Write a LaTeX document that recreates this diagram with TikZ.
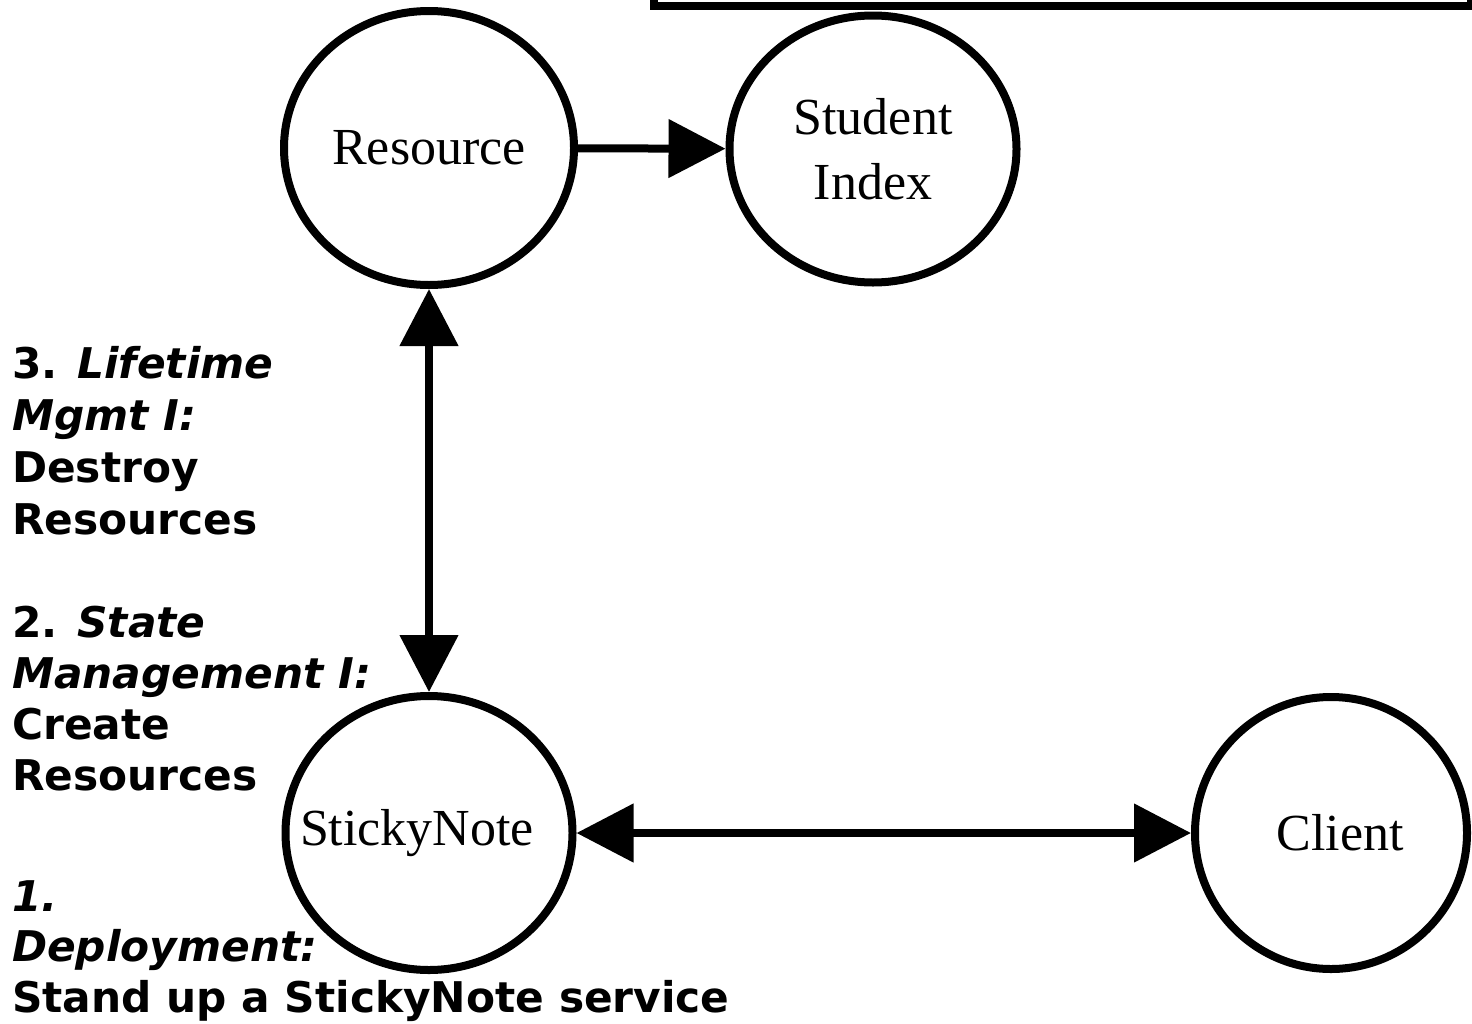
\documentclass[tikz,border=0pt]{standalone}
\usepackage{fontspec}
\setmainfont{Liberation Serif}
\newfontfamily\lblfont{DejaVu Sans}
\usetikzlibrary{shapes.geometric,arrows.meta}
\tikzset{
  state/.style={ellipse, draw, line width=8pt, inner sep=0pt, font=\fontsize{52}{65}\selectfont, align=center},
  conn/.style={line width=8pt, -{Triangle[length=57pt,width=57pt]}},
  biconn/.style={line width=8pt, {Triangle[length=57pt,width=57pt]}-{Triangle[length=57pt,width=57pt]}},
  steptext/.style={anchor=base west, align=left, inner sep=0pt}
}
\begin{document}
\begin{tikzpicture}[x=1pt,y=-1pt]
\useasboundingbox (0,0) rectangle (1472,1023);
\fill[white] (0,0) rectangle (1472,1023);
% top box (cut off)
\node[draw, line width=8pt, minimum width=817pt, minimum height=100pt, inner sep=0pt, anchor=south west] (box) at (650,10) {};
% nodes
\node[state, minimum width=290pt, minimum height=274pt] (res) at (429,148) {\makebox[0pt]{Resource}};
\node[state, minimum width=287pt, minimum height=267pt] (stu) at (873,149) {\makebox[0pt]{Student}\\\makebox[0pt]{Index}};
\node[state, minimum width=287pt, minimum height=274pt] (sticky) at (429,833) {\makebox[0pt]{StickyNote\hspace*{24pt}}};
\node[state, minimum width=272pt, minimum height=272pt] (client) at (1331,833) {\makebox[0pt]{\hspace*{18pt}Client}};
% connectors
\draw[conn] (res) -- (stu);
\draw[biconn] (res) -- (sticky);
\draw[biconn] (sticky) -- (client);
% step labels (anchored at the baseline of their last line)
\node[steptext, font=\lblfont\bfseries\fontsize{42.3}{52}\selectfont] (s3) at (12,534) {3. \textit{Lifetime}\\\textit{Mgmt I:}\\Destroy\\Resources};
\node[steptext, font=\lblfont\bfseries\fontsize{42.3}{51}\selectfont] (s2) at (12,790) {2. \textit{State}\\\textit{Management I:}\\Create\\Resources};
\node[steptext, font=\lblfont\bfseries\fontsize{42.3}{50.5}\selectfont] (s1) at (12,1012) {\textit{1.}\\\textit{Deployment:}\\Stand up a StickyNote service};
\end{tikzpicture}
\end{document}
